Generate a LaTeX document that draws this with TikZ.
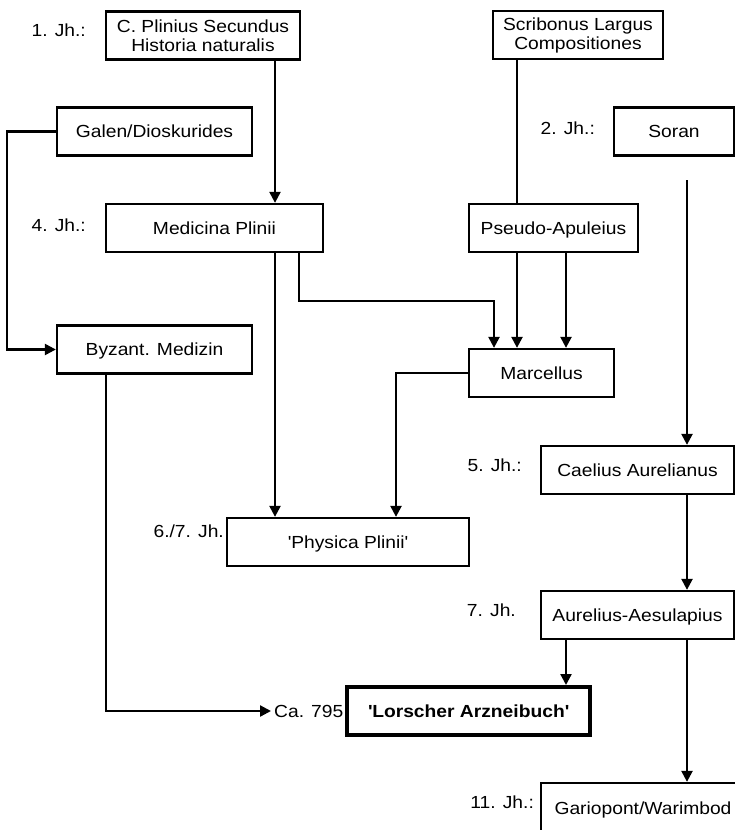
\documentclass[tikz,border=0pt]{standalone}
\usepackage{fontspec}
\setmainfont{Liberation Sans}[FakeStretch=1.1]
\usetikzlibrary{arrows.meta}
\newcommand{\sq}{\textquotesingle}

\begin{document}
\begin{tikzpicture}[x=1pt,y=-1pt,line width=2.3pt,
    every node/.style={font=\fontsize{17.5}{19}\selectfont, inner sep=0pt},
    werk/.style={draw, minimum height=48pt, text height=12.5pt, text depth=0pt},
    werkzwei/.style={draw, minimum height=48pt, align=center},
    zeit/.style={anchor=east},
    arr/.style={-{Triangle[width=11pt,length=11pt]}}]
    \useasboundingbox (0,0) rectangle (735,830);
    \clip (0,0) rectangle (735,830);

    % Werke
    \node[werkzwei, minimum width=194pt] (plinius) at (203,35.5) {C. Plinius Secundus\\Historia naturalis};
    \node[werkzwei, minimum width=170pt] (scribonus) at (578,35) {Scribonus Largus\\Compositiones};
    \node[werk, minimum width=195pt] (galen) at (154.5,131.5) {Galen/Dioskurides};
    \node[werk, minimum width=120pt] (soran) at (674,131.5) {Soran};
    \node[werk, minimum width=217pt] (medicina) at (214.5,228) {Medicina Plinii};
    \node[werk, minimum width=169pt] (pseudo) at (553.5,228) {Pseudo-Apuleius};
    \node[werk, minimum width=195pt] (byzanz) at (154.5,349.5) {Byzant. Medizin};
    \node[werk, minimum width=145pt] (marcellus) at (541.5,373) {Marcellus};
    \node[werk, minimum width=193pt] (caelius) at (637.5,470) {Caelius Aurelianus};
    \node[werk, minimum width=242pt] (physica) at (348,542) {\sq Physica Plinii\sq};
    \node[werk, minimum width=193pt] (aurelius) at (637.5,615) {Aurelius-Aesulapius};
    \node[werk, minimum width=243pt, line width=4pt,
        font=\fontsize{17.5}{19}\selectfont\bfseries] (lorsch) at (468.5,711) {\sq Lorscher Arzneibuch\sq};
    \node[werk, minimum width=204pt, minimum height=50pt] (gario) at (643,808) {Gariopont/Warimbod};

    % Zeitangaben
    \node[zeit] (jh1) at (87,30) {1. Jh.:};
    \node[zeit] (jh2) at (596,128) {2. Jh.:};
    \node[zeit] (jh4) at (87,225) {4. Jh.:};
    \node[zeit] (jh5) at (523,465) {5. Jh.:};
    \node[zeit] (jh67) at (225,531) {6./7. Jh.};
    \node[zeit] (jh7) at (517,610) {7. Jh.};
    \node[zeit] (jh11) at (535,802) {11. Jh.:};
    \node[anchor=west, inner xsep=2pt] (ca) at (271,711) {Ca. 795:};

    \coordinate (k1) at (275,0);
    \coordinate (k2) at (299,0);
    \coordinate (k3) at (494,0);
    \coordinate (k4) at (517,0);
    \coordinate (k5) at (566,0);
    \coordinate (k7) at (396,0);
    \coordinate (k8) at (106,0);
    \coordinate (soranlinie) at (687,180);

    \draw[arr] (plinius.south -| k1) -- (medicina.north -| k1);
    \draw[arr] (galen.west) -- ++(-49,0) |- (byzanz.west);
    \draw (scribonus.south -| k4) -- (pseudo.north -| k4);
    \draw[arr] (soranlinie) -- (caelius.north -| soranlinie);
    \draw[arr] (medicina.south -| k1) -- (physica.north -| k1);
    \draw[arr] (medicina.south -| k2) -- ++(0,48) -| (marcellus.north -| k3);
    \draw[arr] (pseudo.south -| k4) -- (marcellus.north -| k4);
    \draw[arr] (pseudo.south -| k5) -- (marcellus.north -| k5);
    \draw[arr] (marcellus.west) -| (physica.north -| k7);
    \draw[arr] (byzanz.south -| k8) |- (ca.west);
    \draw[arr] (caelius.south -| soranlinie) -- (aurelius.north -| soranlinie);
    \draw[arr] (aurelius.south -| k5) -- (lorsch.north -| k5);
    \draw[arr] (aurelius.south -| soranlinie) -- (gario.north -| soranlinie);
\end{tikzpicture}
\end{document}
